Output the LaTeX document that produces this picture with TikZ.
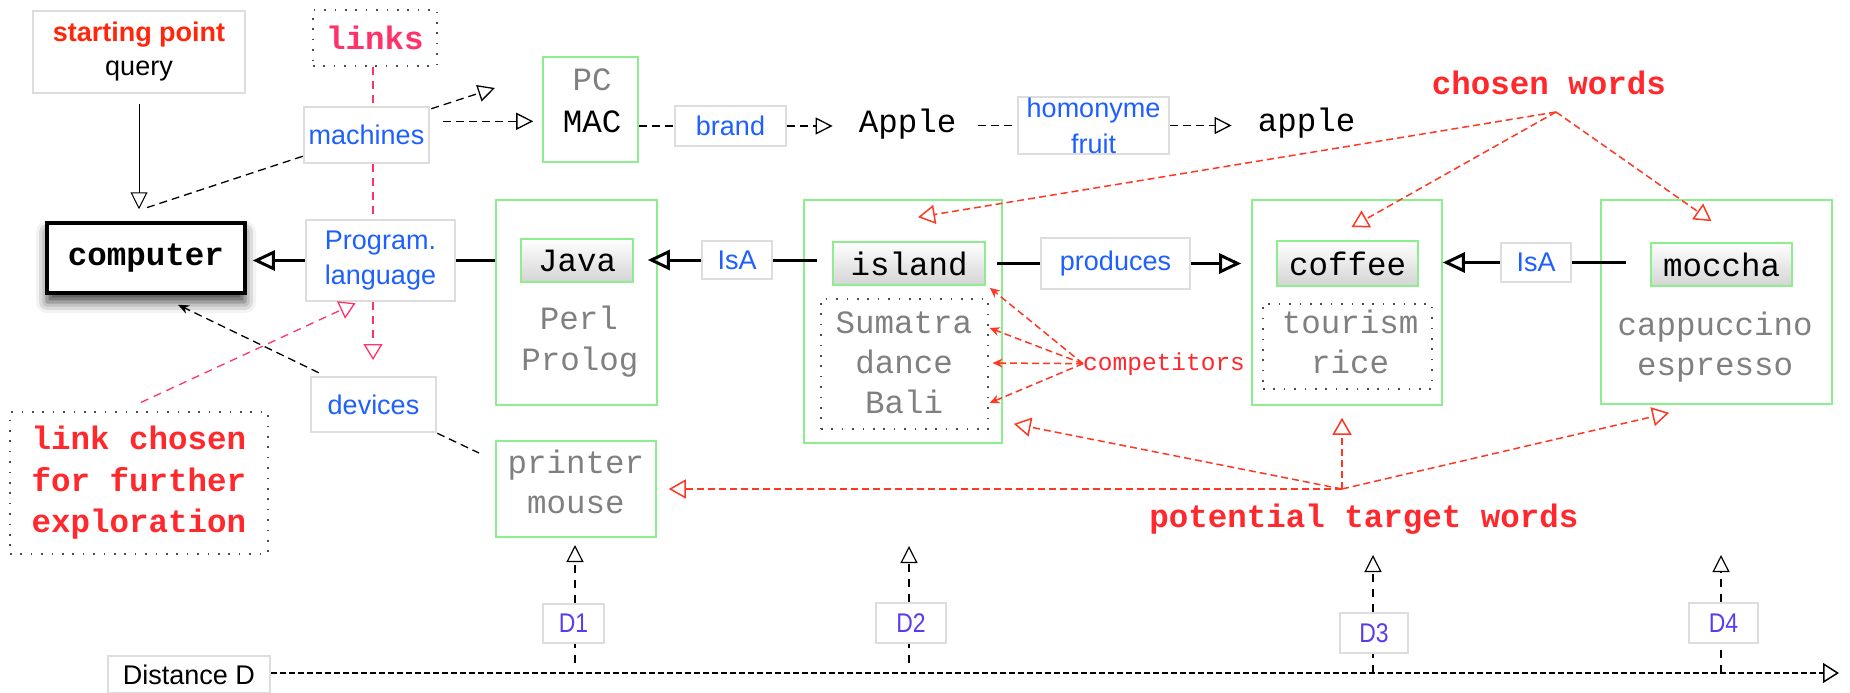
\documentclass[tikz,border=0pt]{standalone}
\usepackage{fontspec}
\usetikzlibrary{arrows.meta,calc,shadows.blur}
\newfontfamily\sansf{Liberation Sans}
\newfontfamily\condf[FakeStretch=0.85]{Liberation Sans}
\newfontfamily\monof{Liberation Mono}
\definecolor{lgray}{RGB}{221,221,221}
\definecolor{lblue}{RGB}{30,95,255}
\definecolor{lgreen}{RGB}{140,238,140}
\definecolor{tgray}{RGB}{128,128,128}
\definecolor{cred}{RGB}{255,40,45}
\definecolor{spred}{RGB}{255,38,10}
\definecolor{lpink}{RGB}{255,50,105}
\definecolor{dpurple}{RGB}{90,60,240}
\definecolor{ared}{RGB}{255,55,35}
\begin{document}
\begin{tikzpicture}[x=1pt,y=-1pt,
  graybox/.style={draw=lgray, line width=2.5pt, fill=white, rectangle, inner sep=0pt, align=center},
  greenbox/.style={draw=lgreen, line width=1.6pt, rectangle, inner sep=0pt},
  wordbox/.style={draw=lgreen, line width=1.6pt, top color=white, bottom color=black!17, rectangle, inner sep=0pt, font=\monof\fontsize{32.5}{41}\selectfont},
  dotbox/.style={draw=black!70, line width=1.2pt, dash pattern=on 1.6pt off 8.8pt, rectangle, inner sep=0pt, align=center},
  lbl/.style={font=\sansf\fontsize{27}{35}\selectfont, text=lblue},
  dlbl/.style={font=\condf\fontsize{27}{32}\selectfont, text=dpurple},
  mono/.style={font=\monof\fontsize{32.5}{41}\selectfont, inner sep=0pt, align=center},
  monob/.style={font=\monof\bfseries\fontsize{32.5}{41.5}\selectfont, inner sep=0pt, align=center},
  bdash/.style={draw=black, line width=1.3pt, dash pattern=on 8pt off 5pt},
  ddash/.style={draw=black, line width=1.2pt, dash pattern=on 8pt off 7pt},
  adash/.style={draw=black, line width=1.5pt, dash pattern=on 6pt off 3pt},
  pdash/.style={draw=lpink, line width=1.3pt, dash pattern=on 8pt off 6pt},
  rdash/.style={draw=ared, line width=1.5pt, dash pattern=on 7pt off 4pt},
  thickline/.style={draw=black, line width=3pt},
  openarrow/.style={-{Triangle[open, length=17pt, width=17pt]}},
  thickarrow/.style={-{Triangle[open, length=22pt, width=20pt]}},
  redarrow/.style={-{Triangle[open, length=17pt, width=19pt]}},
  pinkarrow/.style={-{Triangle[open, length=16pt, width=19pt]}},
  comparrow/.style={-{Stealth[length=10pt, width=9pt]}},
]
\useasboundingbox (0,0) rectangle (1850,693);

% ---------- left column ----------
\node[graybox, font=\sansf\fontsize{27}{34}\selectfont, minimum width=212pt, minimum height=82pt] (start) at (139,52)
  {{\bfseries\textcolor{spred}{starting point}}\\query};
\node[dotbox, minimum width=124pt, minimum height=56pt, monob, text=lpink] (links) at (375,38) {links};
\node[graybox, lbl, minimum width=125pt, minimum height=56pt] (machines) at (366.5,135) {machines};
\node[draw=black, line width=3.5pt, fill=white, rectangle, inner sep=0pt, minimum width=198pt, minimum height=70pt,
  blur shadow={shadow xshift=0pt, shadow yshift=-9pt, shadow blur radius=11pt, shadow opacity=75},
  monob] (computer) at (146,258) {computer};
\node[graybox, lbl, minimum width=149pt, minimum height=81pt] (prog) at (380.5,260.5) {Program.\\language};
\node[graybox, lbl, minimum width=125pt, minimum height=55pt] (devices) at (373.5,404.5) {devices};
\node[dotbox, monob, text=cred, minimum width=258pt, minimum height=142pt] (linkchosen) at (139,483)
  {link chosen\\for further\\exploration};

% ---------- top row ----------
\node[greenbox, minimum width=95pt, minimum height=105pt] (pcmac) at (590.5,109.5) {};
\node[mono, text=tgray, anchor=base] (pc) at (592,91) {PC};
\node[mono, anchor=base] (mac) at (592,132) {MAC};
\node[graybox, lbl, minimum width=111pt, minimum height=40pt] (brand) at (730.5,126) {brand};
\node[mono, anchor=base] (Apple) at (907.5,132) {Apple};
\node[graybox, lbl, font=\sansf\fontsize{27}{36}\selectfont, minimum width=151pt, minimum height=57pt] (homonyme) at (1093.5,125.5) {homonyme\\fruit};
\node[mono, anchor=base] (apple) at (1306.5,131) {apple};
\node[monob, text=cred, anchor=base] (chosen) at (1549,94) {chosen words};
\coordinate (cw) at (1556,112);

% ---------- Java ----------
\node[greenbox, minimum width=161pt, minimum height=205pt] (javaouter) at (576.5,302.5) {};
\node[wordbox, minimum width=112pt, minimum height=43pt] (java) at (577,260.5) {Java};
\node[mono, text=tgray, anchor=base] (perl) at (579,329) {Perl};
\node[mono, text=tgray, anchor=base] (prolog) at (580,370) {Prolog};
\node[graybox, lbl, minimum width=70pt, minimum height=38pt] (isa1) at (737,260) {IsA};

% ---------- island ----------
\node[greenbox, minimum width=198pt, minimum height=243pt] (islandouter) at (903,321.5) {};
\node[wordbox, minimum width=152pt, minimum height=43pt] (island) at (909,263.5) {island};
\node[dotbox, minimum width=167pt, minimum height=130pt] (islanddots) at (904.5,364) {};
\node[mono, text=tgray, anchor=base] (sumatra) at (904,333) {Sumatra};
\node[mono, text=tgray, anchor=base] (dance) at (904,373) {dance};
\node[mono, text=tgray, anchor=base] (bali) at (904,413) {Bali};
\node[graybox, lbl, minimum width=149pt, minimum height=51pt] (produces) at (1115.5,263.5) {produces};

% ---------- coffee ----------
\node[greenbox, minimum width=190pt, minimum height=205pt] (coffeeouter) at (1347,302.5) {};
\node[wordbox, minimum width=141pt, minimum height=45pt] (coffee) at (1347.5,263.5) {coffee};
\node[dotbox, minimum width=169pt, minimum height=85pt] (coffeedots) at (1347.5,346.5) {};
\node[mono, text=tgray, anchor=base] (tourism) at (1350,333) {tourism};
\node[mono, text=tgray, anchor=base] (rice) at (1350,373) {rice};
\node[graybox, lbl, minimum width=70pt, minimum height=39pt] (isa2) at (1536,262.5) {IsA};

% ---------- moccha ----------
\node[greenbox, minimum width=231pt, minimum height=204pt] (mocchaouter) at (1716.5,302) {};
\node[wordbox, minimum width=141pt, minimum height=43pt] (moccha) at (1721.5,264.5) {moccha};
\node[mono, text=tgray, anchor=base] (cappuccino) at (1715,335) {cappuccino};
\node[mono, text=tgray, anchor=base] (espresso) at (1715,375) {espresso};

% ---------- printer ----------
\node[greenbox, minimum width=160pt, minimum height=96pt] (printer) at (576,489) {};
\node[mono, text=tgray, anchor=base] (printerT) at (576,473) {printer};
\node[mono, text=tgray, anchor=base] (mouse) at (576,513) {mouse};

% ---------- labels ----------
\node[font=\monof\fontsize{24.5}{30}\selectfont, text=cred, anchor=base west, inner sep=0pt] (competitors) at (1083,370) {competitors};
\node[monob, text=cred, anchor=base] (potential) at (1364,527) {potential target words};
\coordinate (pt) at (1342,489);

% ---------- distance axis ----------
\node[graybox, font=\sansf\fontsize{27}{32}\selectfont, minimum width=162pt, minimum height=37pt] (distance) at (189,674.5) {Distance D};
\coordinate (axisend) at (1839,673);
\node[graybox, dlbl, minimum width=61pt, minimum height=39pt] (d1) at (573.5,623.5) {D1};
\node[graybox, dlbl, minimum width=70pt, minimum height=40pt] (d2) at (911,623) {D2};
\node[graybox, dlbl, minimum width=68pt, minimum height=40pt] (d3) at (1374,633) {D3};
\node[graybox, dlbl, minimum width=69pt, minimum height=40pt] (d4) at (1723.5,623) {D4};
\coordinate (t1) at (575,545);
\coordinate (t2) at (909,546);
\coordinate (t3) at (1373,555);
\coordinate (t4) at (1721,555);

% ================= connectors =================
% query -> computer
\draw[line width=1pt, openarrow, shorten <=10pt, shorten >=12pt] (start.south) -- (start.south |- computer.north);
% machines links
\coordinate (mfree) at (495,88);
\draw[bdash] ($(machines.south west)+(0,-8)$) -- ($(computer.north)+(-1,-13)$);
\draw[bdash, openarrow] ($(machines.north east)+(1,3)$) -- (mfree);
\draw[bdash, openarrow, shorten <=13pt, shorten >=9pt] (machines.east |- mac) -- (pcmac.west |- mac);
\draw[bdash] (pcmac.east |- brand) -- (brand.west);
\draw[bdash, openarrow, shorten >=26pt] (brand.east) -- (brand.east -| Apple.west);
\draw[bdash, shorten <=22pt] (Apple.east |- homonyme) -- (homonyme.west);
\draw[bdash, openarrow, shorten >=26pt] (homonyme.east) -- (homonyme.east -| apple.west);

% pink links line
\coordinate (ptip) at (373,360);
\draw[pdash] (links.south -| ptip) -- (machines.north -| ptip);
\draw[pdash] (machines.south -| ptip) -- (prog.north -| ptip);
\draw[pdash, pinkarrow] (prog.south -| ptip) -- (ptip);
\draw[pdash, pinkarrow] ($(linkchosen.north)+(2,-9)$) -- ($(prog.south)+(-25,1)$);

% thick chain
\draw[thickline, thickarrow, shorten >=6pt] (prog.west) -- (prog.west -| computer.east);
\draw[thickline] (prog.east -| javaouter.west) -- (prog.east);
\draw[thickline, thickarrow, shorten >=14pt] (isa1.west) -- (isa1.west -| java.east);
\draw[thickline, shorten <=15pt] (isa1.east -| island.west) -- (isa1.east);
\draw[thickline, shorten <=11pt] (island.east) -- (island.east -| produces.west);
\draw[thickline, thickarrow, shorten >=10pt] (produces.east) -- (produces.east -| coffeeouter.west);
\draw[thickline, shorten <=24pt] (isa2.east -| moccha.west) -- (isa2.east);
\draw[thickline, thickarrow] (isa2.west) -- (isa2.west -| coffeeouter.east);

% devices
\coordinate (dfree) at (479,453);
\draw[bdash, -{Stealth[length=11pt, width=9pt]}] ($(devices.north west)+(9,-3)$) -- ($(computer.south)+(32,10)$);
\draw[bdash] (devices.south east) -- (dfree);

% competitors
\draw[rdash, comparrow] (competitors.west) -- ($(island.south east)+(4,2)$);
\draw[rdash, comparrow] (competitors.west) -- ($(islanddots.east)+(1,-36)$);
\draw[rdash, comparrow] (competitors.west) -- ($(islanddots.east)+(4,-1)$);
\draw[rdash, comparrow] (competitors.west) -- ($(islanddots.east)+(1,39)$);

% chosen words
\draw[rdash, redarrow] (cw) -- ($(island.north)+(9,-24)$);
\draw[rdash, redarrow] (cw) -- ($(coffee.north)+(4,-13)$);
\draw[rdash, redarrow] (cw) -- ($(moccha.north)+(-10,-21)$);

% potential target words
\draw[rdash, redarrow] (pt) -- ($(printer.east)+(12,0)$);
\draw[rdash, redarrow] (pt) -- ($(islandouter.south east)+(11,-20)$);
\draw[rdash, redarrow] (pt) -- ($(coffeeouter.south)+(-5,12)$);
\draw[rdash, redarrow] (pt) -- ($(mocchaouter.south west)+(69,8)$);

% distance axis
\draw[adash, -{Triangle[open, length=16pt, width=20pt]}] (distance.east |- axisend) -- (axisend);
\draw[ddash, shorten <=10pt] (t1 |- axisend) -- (t1 |- d1.south);
\draw[ddash, openarrow] (t1 |- d1.north) -- (t1);
\draw[ddash, shorten <=10pt] (t2 |- axisend) -- (t2 |- d2.south);
\draw[ddash, openarrow] (t2 |- d2.north) -- (t2);
\draw[ddash] (t3 |- axisend) -- (t3 |- d3.south);
\draw[ddash, openarrow] (t3 |- d3.north) -- (t3);
\draw[ddash] (t4 |- axisend) -- (t4 |- d4.south);
\draw[ddash, openarrow] (t4 |- d4.north) -- (t4);
\end{tikzpicture}
\end{document}
